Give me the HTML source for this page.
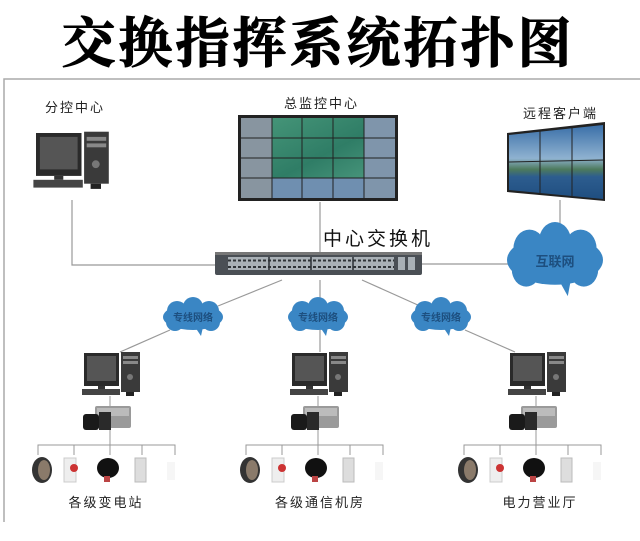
<!DOCTYPE html>
<html><head><meta charset="utf-8"><style>
html,body{margin:0;padding:0;background:#fff;width:640px;height:541px;overflow:hidden}
svg text{font-family:"Liberation Sans","Noto Sans CJK SC",sans-serif}
</style></head><body>
<svg width="640" height="541" viewBox="0 0 640 541" xmlns="http://www.w3.org/2000/svg">
<defs>
<linearGradient id="sky" x1="0" y1="0" x2="0" y2="1">
<stop offset="0" stop-color="#3a6fa8"/><stop offset="0.45" stop-color="#8fb2d0"/><stop offset="0.6" stop-color="#4d7a5c"/><stop offset="0.7" stop-color="#2d5d8f"/><stop offset="1" stop-color="#1f4e80"/></linearGradient>
<linearGradient id="green" x1="0" y1="0" x2="1" y2="1">
<stop offset="0" stop-color="#4a9a7c"/><stop offset="0.5" stop-color="#2f7d66"/><stop offset="1" stop-color="#5aa68a"/></linearGradient>
<g id="pc">
<rect x="0" y="0" width="35" height="33" fill="#2a2a2a"/>
<rect x="3" y="3" width="29" height="25" fill="#555"/>
<rect x="14" y="33" width="7" height="3" fill="#333"/>
<rect x="-2" y="36" width="38" height="6" fill="#444"/>
<rect x="37" y="-1" width="19" height="40" fill="#3a3a3a"/>
<rect x="39" y="3" width="15" height="3" fill="#888"/>
<rect x="39" y="8" width="15" height="3" fill="#888"/>
<circle cx="46" cy="24" r="3" fill="#777"/>
<rect x="42" y="39" width="8" height="4" fill="#222"/>
</g>
<g id="cam">
<rect x="12" y="0" width="36" height="22" rx="2" fill="#9a9a9a"/>
<rect x="14" y="2" width="32" height="8" fill="#bbb"/>
<rect x="0" y="8" width="16" height="16" rx="3" fill="#1a1a1a"/>
<rect x="16" y="6" width="12" height="18" fill="#2a2a2a"/>
</g>
<g id="site">
<use href="#pc" x="84" y="353"/>
<line x1="110" y1="396" x2="110" y2="406" stroke="#999"/>
<use href="#cam" x="83" y="406"/>
<line x1="110" y1="430" x2="110" y2="445" stroke="#999"/>
<polyline points="38,455 38,445 175,445 175,455" fill="none" stroke="#999"/>
<line x1="74" y1="445" x2="74" y2="455" stroke="#999"/>
<line x1="110" y1="445" x2="110" y2="455" stroke="#999"/>
<line x1="142" y1="445" x2="142" y2="455" stroke="#999"/>
<ellipse cx="42" cy="470" rx="10" ry="13" fill="#333"/>
<ellipse cx="44" cy="470" rx="6" ry="10" fill="#8a7a6a"/>
<rect x="64" y="458" width="12" height="24" fill="#eee" stroke="#ccc"/>
<circle cx="74" cy="468" r="4" fill="#c33"/>
<ellipse cx="108" cy="468" rx="11" ry="10" fill="#111"/>
<rect x="104" y="476" width="6" height="6" fill="#b44"/>
<rect x="135" y="458" width="11" height="24" fill="#ddd" stroke="#bbb"/>
<rect x="167" y="462" width="8" height="18" fill="#f6f6f6"/>
</g>
<g id="cloud">
<ellipse cx="0" cy="0" rx="30" ry="13" fill="#3a86c4"/>
<circle cx="-16" cy="-6" r="10" fill="#3a86c4"/>
<circle cx="0" cy="-10" r="10" fill="#3a86c4"/>
<circle cx="16" cy="-6" r="10" fill="#3a86c4"/>
<circle cx="-18" cy="5" r="9" fill="#3a86c4"/>
<circle cx="18" cy="5" r="9" fill="#3a86c4"/>
<path d="M2 10 L8 19 L10 10Z" fill="#3a86c4"/>
</g>
</defs>

<text x="318" y="62" text-anchor="middle" font-size="54" font-weight="bold" letter-spacing="3" fill="#000" stroke="#000" stroke-width="1" style="font-family:'Noto Serif CJK SC','Noto Sans CJK SC',serif">交换指挥系统拓扑图</text>

<polyline points="640,79 4,79 4,522" fill="none" stroke="#aaa" stroke-width="1.5"/>

<text x="45" y="112" font-size="13" letter-spacing="2" fill="#222">分控中心</text>
<text x="284" y="108" font-size="13" letter-spacing="2" fill="#222">总监控中心</text>
<text x="523" y="118" font-size="13" letter-spacing="2" fill="#222">远程客户端</text>

<g transform="translate(36,133) scale(1.3)"><use href="#pc"/></g>

<rect x="238" y="115" width="160" height="86" fill="#222"/>
<rect x="241" y="118" width="154" height="80" fill="url(#green)"/>
<rect x="241" y="118" width="31" height="80" fill="#8895a0"/>
<rect x="364" y="118" width="31" height="80" fill="#7f95ab"/>
<rect x="272" y="178" width="92" height="20" fill="#6f8fb0"/>
<g stroke="#222" stroke-width="1">
<line x1="272" y1="118" x2="272" y2="198"/><line x1="364" y1="118" x2="364" y2="198"/>
<line x1="302" y1="118" x2="302" y2="198"/><line x1="333" y1="118" x2="333" y2="198"/>
<line x1="241" y1="138" x2="395" y2="138"/><line x1="241" y1="158" x2="395" y2="158"/><line x1="241" y1="178" x2="395" y2="178"/>
</g>

<polygon points="507,133 605,122 605,201 507,192" fill="#222"/>
<polygon points="509,135 603,125 603,199 509,190" fill="url(#sky)"/>
<g stroke="#222"><line x1="540" y1="131" x2="540" y2="193"/><line x1="572" y1="128" x2="572" y2="196"/>
<line x1="509" y1="162" x2="603" y2="160"/></g>

<g stroke="#999" stroke-width="1.2" fill="none">
<polyline points="72,200 72,265 218,265"/>
<line x1="320" y1="202" x2="320" y2="252"/>
<line x1="560" y1="200" x2="560" y2="240"/>
<line x1="422" y1="264" x2="508" y2="264"/>
<line x1="282" y1="280" x2="218" y2="306"/>
<line x1="320" y1="280" x2="320" y2="306"/>
<line x1="362" y1="280" x2="420" y2="306"/>
<line x1="170" y1="330" x2="120" y2="352"/>
<line x1="320" y1="330" x2="320" y2="352"/>
<line x1="465" y1="330" x2="515" y2="352"/>
</g>

<text x="323" y="245" font-size="19" letter-spacing="3" fill="#111">中心交换机</text>

<rect x="215" y="252" width="207" height="23" rx="2" fill="#4a4f55"/>
<rect x="215" y="252" width="207" height="3" fill="#777"/>
<g fill="#a9b0b6">
<rect x="228" y="257" width="40" height="13"/><rect x="270" y="257" width="40" height="13"/>
<rect x="312" y="257" width="40" height="13"/><rect x="354" y="257" width="40" height="13"/>
<rect x="398" y="257" width="7" height="13"/><rect x="408" y="257" width="7" height="13"/>
</g>
<g stroke="#2f3337" stroke-width="2" stroke-dasharray="3,2"><line x1="228" y1="260.5" x2="394" y2="260.5"/><line x1="228" y1="267" x2="394" y2="267"/></g>

<g transform="translate(555,260) scale(1.6,1.9)"><use href="#cloud"/></g>
<text x="555" y="266" text-anchor="middle" font-size="13" font-weight="bold" fill="#1d4f7f">互联网</text>

<use href="#cloud" x="193" y="317"/>
<use href="#cloud" x="318" y="317"/>
<use href="#cloud" x="441" y="317"/>
<text x="193" y="321" text-anchor="middle" font-size="10" font-weight="bold" fill="#1d4f7f">专线网络</text>
<text x="318" y="321" text-anchor="middle" font-size="10" font-weight="bold" fill="#1d4f7f">专线网络</text>
<text x="441" y="321" text-anchor="middle" font-size="10" font-weight="bold" fill="#1d4f7f">专线网络</text>

<use href="#site"/>
<use href="#site" x="208"/>
<use href="#site" x="426"/>

<text x="106" y="507" text-anchor="middle" font-size="13" letter-spacing="2" fill="#222">各级变电站</text>
<text x="320" y="507" text-anchor="middle" font-size="13" letter-spacing="2" fill="#222">各级通信机房</text>
<text x="540" y="507" text-anchor="middle" font-size="13" letter-spacing="2" fill="#222">电力营业厅</text>
</svg>
</body></html>
